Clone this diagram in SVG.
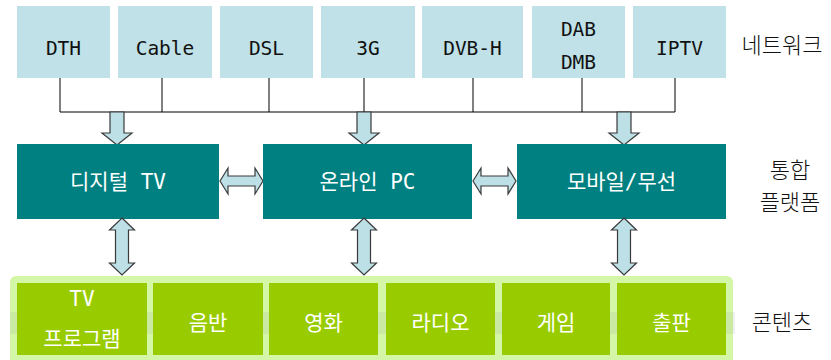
<svg xmlns="http://www.w3.org/2000/svg" width="831" height="360" viewBox="0 0 831 360">
<style>
.net{fill:#bfe1e7}
.plat{fill:#008080}
.cont{fill:#99cc00}
.arr{fill:#bddfe6;stroke:#3a3a3a;stroke-width:1.2;stroke-linejoin:miter}
.line{stroke:#000;stroke-width:1;fill:none}
.t{font-family:"DejaVu Sans Mono","Noto Sans CJK KR",monospace;text-anchor:middle}
.tn{font-size:19.5px;fill:#111}
.tp{font-size:21px;fill:#fff}
.tc{font-size:21px;fill:#fff}
.lab{font-family:"Noto Sans CJK KR",sans-serif;font-size:22px;font-weight:300;fill:#111;text-anchor:middle}
</style>
<rect width="831" height="360" fill="#fff"/>
<g id="connectors">
<path class="line" d="M60 78V112M162 78V112M269 78V112M364 78V112M473 78V112M582 78V112M675 78V112M60 112H675"/>
<path class="arr" d="M110 112H124V133H132L117 145L102 133H110Z"/>
<path class="arr" d="M357 112H371V133H379L364 145L349 133H357Z"/>
<path class="arr" d="M617 112H631V133H639L624 145L609 133H617Z"/>
<path class="arr" d="M220 181L228 168V176H255V168L263 181L255 194V186H228V194Z"/>
<path class="arr" d="M473 181L481 168V176H508V168L516 181L508 194V186H481V194Z"/>
</g>
<g id="net-DTH"><rect class="net" x="17" y="6" width="93" height="72"/><text class="t tn" x="63.5" y="55">DTH</text></g>
<g id="net-Cable"><rect class="net" x="118" y="6" width="94" height="72"/><text class="t tn" x="165" y="55">Cable</text></g>
<g id="net-DSL"><rect class="net" x="220" y="6" width="93" height="72"/><text class="t tn" x="266.5" y="55">DSL</text></g>
<g id="net-3G"><rect class="net" x="321" y="6" width="94" height="72"/><text class="t tn" x="368" y="55">3G</text></g>
<g id="net-DVBH"><rect class="net" x="422" y="6" width="101" height="72"/><text class="t tn" x="472.5" y="55">DVB-H</text></g>
<g id="net-DAB"><rect class="net" x="532" y="6" width="93" height="72"/><text class="t tn" x="578.5" y="36">DAB</text><text class="t tn" x="578.5" y="69">DMB</text></g>
<g id="net-IPTV"><rect class="net" x="633" y="6" width="93" height="72"/><text class="t tn" x="679.5" y="55">IPTV</text></g>
<g id="label-network"><text class="lab" x="782" y="53">네트워크</text></g>
<g id="plat-dtv"><rect class="plat" x="17" y="144" width="202" height="75"/><text class="t tp" x="118" y="189">디지털 TV</text></g>
<g id="plat-pc"><rect class="plat" x="263" y="144" width="209" height="75"/><text class="t tp" x="367.5" y="189">온라인 PC</text></g>
<g id="plat-mobile"><rect class="plat" x="517" y="144" width="209" height="75"/><text class="t tp" x="621.5" y="189">모바일/무선</text></g>
<g id="label-platform"><text class="lab" x="790" y="178">통합</text><text class="lab" x="790" y="210">플랫폼</text></g>
<g id="contents">
<rect x="10" y="276" width="723" height="90" rx="6" fill="#d3f7a6"/>
<rect x="10" y="312" width="725" height="22" fill="#9aa090" opacity="0.16"/>
<g id="cont-tv"><rect class="cont" x="17" y="283" width="130" height="72"/><text class="t tc" x="82" y="306">TV</text><text class="t tc" x="82" y="346">프로그램</text></g>
<g id="cont-music"><rect class="cont" x="153" y="283" width="110" height="72"/><text class="t tc" x="208" y="330">음반</text></g>
<g id="cont-movie"><rect class="cont" x="269" y="283" width="109" height="72"/><text class="t tc" x="323.5" y="330">영화</text></g>
<g id="cont-radio"><rect class="cont" x="386" y="283" width="109" height="72"/><text class="t tc" x="440.5" y="330">라디오</text></g>
<g id="cont-game"><rect class="cont" x="502" y="283" width="108" height="72"/><text class="t tc" x="556" y="330">게임</text></g>
<g id="cont-pub"><rect class="cont" x="617" y="283" width="109" height="72"/><text class="t tc" x="671.5" y="330">출판</text></g>
</g>
<g id="connectors-v">
<path class="arr" d="M122 218L134.5 230H128.5V263H134.5L122 275L109.5 263H115.5V230H109.5Z"/>
<path class="arr" d="M364 218L376.5 230H370.5V263H376.5L364 275L351.5 263H357.5V230H351.5Z"/>
<path class="arr" d="M624 218L636.5 230H630.5V263H636.5L624 275L611.5 263H617.5V230H611.5Z"/>
</g>
<g id="label-content"><text class="lab" x="782" y="330">콘텐츠</text></g>
</svg>
